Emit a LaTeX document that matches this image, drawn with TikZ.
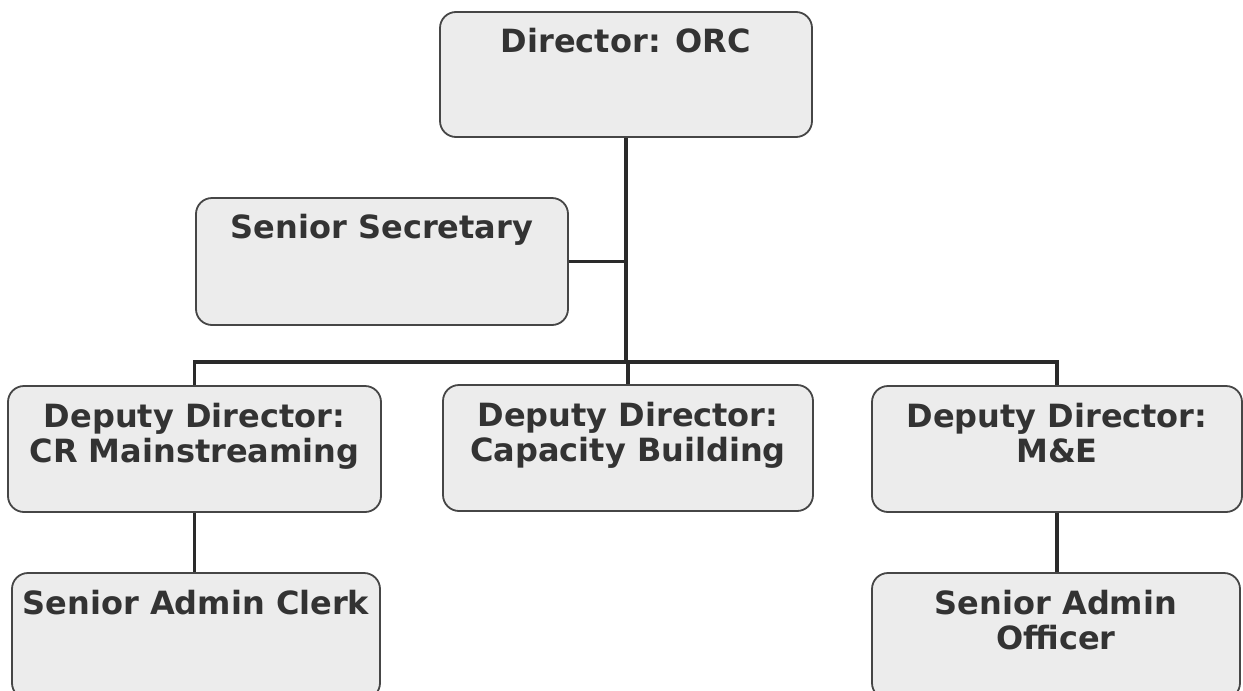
\documentclass[tikz,border=0pt]{standalone}
\usepackage{fontspec}
\setmainfont{DejaVu Sans}
\definecolor{boxfill}{HTML}{ECECEC}
\definecolor{boxline}{HTML}{464646}
\definecolor{wire}{HTML}{2A2A2A}
\definecolor{ink}{HTML}{333333}
\newcommand\boxcontent[4]{\parbox[c][#2][t]{#1}{\centering\vspace*{#3}#4\par}}
\begin{document}
\begin{tikzpicture}[x=1pt,y=-1pt,
  orgbox/.style={draw=boxline, fill=boxfill, line width=1.8pt, rounded corners=16pt,
    inner sep=0pt, text=ink, font=\fontsize{32pt}{35pt}\selectfont\bfseries},
  wireline/.style={draw=wire, line width=3.2pt}]
\useasboundingbox[fill=white] (0,0) rectangle (1243,691);
\node[orgbox] (dir) at (626,74.5) {\boxcontent{372pt}{125pt}{16pt}{Director: ORC}};
\node[orgbox] (sec) at (382,261.5) {\boxcontent{372pt}{127pt}{16pt}{Senior Secretary}};
\node[orgbox] (dcr) at (194.5,449) {\boxcontent{373pt}{126pt}{17pt}{Deputy Director:\\CR Mainstreaming}};
\node[orgbox] (dcb) at (628,448) {\boxcontent{370pt}{126pt}{17pt}{Deputy Director:\\Capacity Building}};
\node[orgbox] (dme) at (1057,449) {\boxcontent{370pt}{126pt}{17pt}{Deputy Director:\\M\&E}};
\node[orgbox] (clk) at (196,636) {\boxcontent{368pt}{126pt}{17pt}{Senior Admin Clerk}};
\node[orgbox] (off) at (1056,636) {\boxcontent{368pt}{126pt}{17pt}{Senior Admin\\Officer}};
\coordinate (hub) at (dir.south |- 0,362);
\coordinate (hl) at (dcr.north |- 0,362);
\coordinate (hr) at (dme.north |- 0,362);
\draw[wireline] (dir.south) -- (hub);
\draw[wireline] (sec.east) -- (sec.east -| dir.south);
\draw[wireline, line cap=rect] (hl) -- (hr);
\draw[wireline] (hl) -- (dcr.north);
\draw[wireline] (hr) -- (dme.north);
\draw[wireline] (dcb.north |- hub) -- (dcb.north);
\draw[wireline] (dcr.south) -- (clk.north -| dcr.south);
\draw[wireline] (dme.south) -- (off.north -| dme.south);
\end{tikzpicture}
\end{document}
